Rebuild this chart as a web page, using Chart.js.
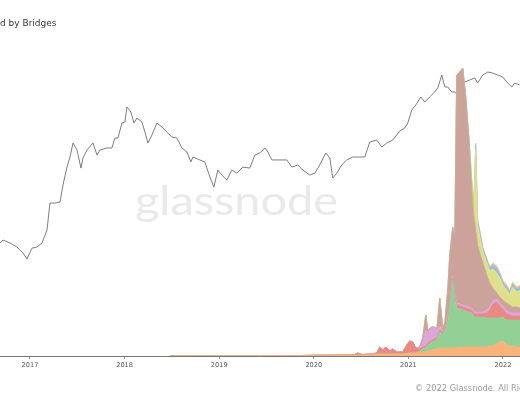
<!DOCTYPE html>
<html>
<head>
<meta charset="utf-8">
<script src="https://cdn.jsdelivr.net/npm/chart.js@4.4.0/dist/chart.umd.min.js"></script>
<style>
  html, body { margin: 0; padding: 0; background: #fff; }
  #wrap { width: 520px; height: 400px; }
</style>
</head>
<body>
<div id="wrap"><canvas id="chart" width="520" height="400"></canvas></div>
<script>
// tick years on the x axis
const yearTicks = [2017, 2018, 2019, 2020, 2021, 2022];

// ETH price line (decimal year, USD)
const priceYears = [2016.683, 2016.715, 2016.789, 2016.863, 2016.926, 2016.968, 2017.021, 2017.074, 2017.127, 2017.180,
  2017.211, 2017.264, 2017.317, 2017.349, 2017.391, 2017.423, 2017.455, 2017.497, 2017.539, 2017.560,
  2017.602, 2017.666, 2017.708, 2017.740, 2017.814, 2017.866, 2017.898, 2017.930, 2017.972, 2018.004,
  2018.025, 2018.067, 2018.099, 2018.131, 2018.183, 2018.215, 2018.247, 2018.289, 2018.342, 2018.395,
  2018.447, 2018.500, 2018.553, 2018.606, 2018.659, 2018.701, 2018.722, 2018.796, 2018.849, 2018.902,
  2018.944, 2018.986, 2019.029, 2019.081, 2019.134, 2019.187, 2019.250, 2019.324, 2019.377, 2019.430,
  2019.483, 2019.515, 2019.557, 2019.620, 2019.715, 2019.768, 2019.831, 2019.884, 2019.958, 2020.011,
  2020.063, 2020.127, 2020.170, 2020.201, 2020.243, 2020.296, 2020.349, 2020.412, 2020.487, 2020.539,
  2020.592, 2020.666, 2020.719, 2020.772, 2020.835, 2020.909, 2020.962, 2020.994, 2021.036, 2021.078,
  2021.131, 2021.173, 2021.226, 2021.268, 2021.311, 2021.353, 2021.385, 2021.416, 2021.458, 2021.490,
  2021.543, 2021.596, 2021.649, 2021.702, 2021.733, 2021.786, 2021.839, 2021.892, 2021.944, 2021.997,
  2022.050, 2022.093, 2022.124, 2022.177];
const priceValues = [12.0, 13.3, 12.0, 10.5, 8.6, 7.0, 10.1, 10.5, 12.0, 18.6,
  46.5, 46.5, 48.1, 85.6, 157, 221, 355, 280, 152, 213,
  280, 355, 236, 280, 300, 300, 420, 420, 698, 723,
  1200, 1014, 698, 827, 723, 515, 355, 465, 698, 610,
  515, 435, 420, 300, 262, 187, 221, 200, 186, 112,
  80, 142, 120, 101, 142, 128, 157, 152, 236, 253,
  300, 262, 200, 200, 200, 157, 169, 142, 120, 128,
  169, 253, 213, 108, 128, 169, 200, 221, 221, 221,
  367, 393, 310, 355, 393, 533, 590, 698, 1085, 1285,
  1686, 1423, 1686, 1928, 2285, 3550, 2366, 2366, 1996, 1996,
  1686, 2800, 3000, 3210, 2705, 3550, 3930, 3795, 3550, 3320,
  2705, 2366, 2705, 2530];

// bridge balances, stacked (decimal year, USD bn)
const areaYears = [2018.479, 2019.853, 2020.275, 2020.434, 2020.465, 2020.508, 2020.613, 2020.666, 2020.698, 2020.730,
  2020.761, 2020.803, 2020.835, 2020.877, 2020.941, 2020.983, 2021.015, 2021.046, 2021.078, 2021.120,
  2021.152, 2021.184, 2021.205, 2021.247, 2021.279, 2021.300, 2021.332, 2021.363, 2021.385, 2021.416,
  2021.437, 2021.469, 2021.490, 2021.511, 2021.543, 2021.575, 2021.606, 2021.638, 2021.670, 2021.691,
  2021.712, 2021.733, 2021.754, 2021.786, 2021.828, 2021.860, 2021.892, 2021.934, 2021.966, 2021.997,
  2022.040, 2022.071, 2022.103, 2022.145, 2022.188];
const bridgeA = [0, 0.05, 0.1, 0.1, 0.1, 0.1, 0.15, 0.2, 0.2, 0.2,
  0.2, 0.2, 0.2, 0.2, 0.2, 0.25, 0.3, 0.3, 0.3, 0.4,
  0.4, 0.4, 0.5, 0.6, 0.7, 0.7, 0.8, 0.8, 0.8, 0.8,
  0.8, 0.8, 0.8, 0.8, 0.9, 0.9, 0.9, 0.9, 0.9, 0.9,
  0.9, 0.9, 0.9, 0.9, 0.9, 1.0, 1.0, 1.2, 1.4, 1.5,
  1.1, 1.0, 1.0, 0.9, 0.9];
const bridgeB = [0, 0, 0, 0, 0, 0, 0, 0, 0, 0,
  0, 0, 0, 0, 0, 0, 0, 0, 0, 0.1,
  0.3, 0.4, 0.6, 0.8, 0.8, 0.9, 1.6, 1.4, 1.6, 2.6,
  4.0, 6.8, 5.0, 4.0, 3.8, 3.7, 3.6, 3.5, 3.4, 3.0,
  3.0, 3.0, 3.0, 3.0, 2.9, 2.8, 2.8, 2.6, 2.4, 2.4,
  2.5, 2.6, 2.6, 2.7, 2.7];
const bridgeC = [0, 0, 0, 0.05, 0.2, 0.05, 0.05, 0.1, 0.7, 0.4,
  0.7, 0.3, 0.5, 0.2, 0.2, 0.85, 1.2, 1.1, 0.5, 0.2,
  0.2, 0.2, 0.2, 0.2, 0.2, 0.2, 0.2, 0.2, 0.2, 0.2,
  0.2, 0.2, 0.2, 0.3, 0.3, 0.3, 0.3, 0.3, 0.3, 0.3,
  0.3, 0.3, 0.3, 0.3, 0.5, 0.8, 1.4, 1.6, 1.2, 0.8,
  0.6, 0.5, 0.4, 0.4, 0.4];
const bridgeD = [0, 0, 0, 0, 0, 0, 0, 0, 0, 0,
  0, 0, 0, 0, 0, 0, 0, 0, 0, 0.1,
  0.5, 1.5, 1.0, 1.2, 1.2, 0.6, 0.4, 0.1, 0.1, 0.2,
  0.2, 0.2, 0.2, 0.2, 0.2, 0.2, 0.2, 0.2, 0.2, 0.2,
  0.2, 0.2, 0.2, 0.2, 0.3, 0.3, 0.3, 0.3, 0.3, 0.3,
  0.3, 0.3, 0.3, 0.3, 0.3];
const bridgeE = [0, 0, 0, 0, 0, 0, 0, 0, 0, 0,
  0, 0, 0, 0, 0, 0, 0, 0, 0, 0.1,
  0.4, 1.6, 0.3, 0.1, 0, 0.2, 2.8, 0.3, 0.6, 2.8,
  4.8, 4.9, 5.4, 22.8, 23.2, 23.7, 21.0, 17.1, 12.0, 9.7,
  8.2, 6.7, 5.9, 5.0, 3.5, 2.4, 1.3, 0.6, 0.6, 0.6,
  0.8, 0.7, 0.6, 0.6, 0.5];
const bridgeF = [0, 0, 0, 0, 0, 0, 0, 0, 0, 0,
  0, 0, 0, 0, 0, 0, 0, 0, 0, 0,
  0, 0, 0, 0, 0, 0, 0, 0, 0, 0,
  0, 0, 0, 0, 0, 0, 0, 0, 0.8, 0.8,
  8.0, 2.0, 1.7, 1.1, 1.3, 1.2, 1.9, 2.0, 1.9, 1.5,
  1.3, 1.1, 2.0, 1.5, 1.8];
const bridgeG = [0, 0, 0, 0, 0, 0, 0, 0, 0, 0,
  0, 0, 0, 0, 0, 0, 0, 0, 0, 0,
  0, 0, 0, 0, 0, 0, 0, 0, 0, 0,
  0, 0, 0, 0, 0, 0, 0, 0, 0, 0.2,
  0.5, 0.4, 0.5, 0.3, 0.3, 0.3, 0.4, 0.5, 0.4, 0.3,
  0.3, 0.2, 0.3, 0.3, 0.3];
const bridgeH = [0, 0, 0, 0, 0, 0, 0, 0, 0, 0,
  0, 0, 0, 0, 0, 0, 0, 0, 0, 0,
  0, 0, 0, 0, 0, 0, 0, 0, 0, 0,
  0, 0, 0, 0, 0, 0, 0, 0, 0, 0,
  0.2, 0.1, 0.1, 0.1, 0.1, 0.1, 0.2, 0.2, 0.2, 0.2,
  0.2, 0.2, 0.2, 0.2, 0.2];

const layers = [
  { data: bridgeA, color: '#f9b27a' },
  { data: bridgeB, color: '#93d096' },
  { data: bridgeC, color: '#ea8883' },
  { data: bridgeD, color: '#dea4de' },
  { data: bridgeE, color: '#cba39b' },
  { data: bridgeF, color: '#dfe08b' },
  { data: bridgeG, color: '#92c1df' },
  { data: bridgeH, color: '#f7be8c' }
];

function zip(xs, ys) {
  return xs.map((x, i) => ({ x: x, y: ys[i] }));
}

// areas first so they are drawn over the price line
const datasets = [];
layers.forEach((l, i) => {
  datasets.push({
    label: 'Bridge ' + (i + 1),
    data: zip(areaYears, l.data),
    yAxisID: 'yArea',
    borderColor: l.color,
    backgroundColor: l.color,
    borderWidth: 0.8,
    pointRadius: 0,
    fill: i === 0 ? 'origin' : '-1',
    tension: 0
  });
});
datasets.push({
  label: 'Price',
  data: zip(priceYears, priceValues),
  yAxisID: 'yPrice',
  borderColor: '#6e6e6e',
  borderWidth: 0.9,
  pointRadius: 0,
  fill: false,
  tension: 0
});

// text that is not part of the plot: title, watermark, copyright
const decor = {
  id: 'decor',
  beforeDatasetsDraw(chart) {
    const ctx = chart.ctx;
    ctx.save();
    ctx.font = '40px Lato';
    ctx.fillStyle = '#e9e9e9';
    ctx.textBaseline = 'alphabetic';
    const w = ctx.measureText('glassnode').width;
    ctx.translate(135, 215);
    ctx.scale(203 / w, 1);
    ctx.fillText('glassnode', 0, 0);
    ctx.restore();
  },
  afterDraw(chart) {
    const ctx = chart.ctx;
    ctx.save();
    ctx.fillStyle = '#333';
    ctx.font = '9px "DejaVu Sans"';
    ctx.textBaseline = 'alphabetic';
    ctx.fillText('d by Bridges', 0, 26);
    ctx.fillStyle = '#999';
    ctx.font = '8.3px "DejaVu Sans"';
    ctx.fillText('\u00a9 2022 Glassnode. All Rights Reserved.', 415, 391);
    ctx.restore();
  }
};

new Chart(document.getElementById('chart'), {
  type: 'line',
  data: { datasets: datasets },
  options: {
    responsive: false,
    animation: false,
    layout: { padding: { top: 40, left: 0, right: 0, bottom: 0 } },
    plugins: { legend: { display: false }, tooltip: { enabled: false }, title: { display: false } },
    scales: {
      x: {
        type: 'linear',
        min: 2016.683,
        max: 2022.180,
        afterFit: (s) => { s.height = 44; },
        border: { display: true, color: '#777', width: 1 },
        grid: { display: true, drawOnChartArea: false, drawTicks: true, tickLength: 3, color: '#999' },
        ticks: {
          stepSize: 1,
          includeBounds: false,
          autoSkip: false,
          maxRotation: 0,
          padding: 2,
          color: '#555',
          font: { family: 'DejaVu Sans', size: 6.6 },
          callback: (v) => yearTicks.includes(v) ? String(v) : ''
        }
      },
      yPrice: {
        type: 'logarithmic',
        display: false,
        bounds: 'data',
        min: 0.262,
        max: 11615
      },
      yArea: {
        type: 'linear',
        display: false,
        stacked: true,
        bounds: 'data',
        min: 0,
        max: 31.6
      }
    }
  },
  plugins: [decor]
});
</script>
</body>
</html>
